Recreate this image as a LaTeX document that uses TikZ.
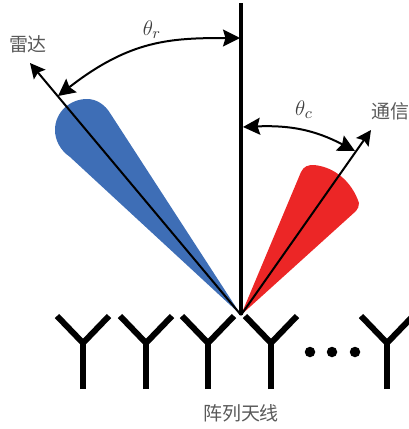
\documentclass[tikz,border=0pt]{standalone}
\usepackage{fontspec}
\newfontfamily\cjk{Noto Sans CJK SC}
\usetikzlibrary{arrows.meta, positioning, calc}

\definecolor{radarblue}{RGB}{62,110,182}
\definecolor{commred}{RGB}{236,38,38}

\begin{document}
\begin{tikzpicture}[
        x=0.2mm, y=-0.2mm,
        lab/.style={font=\cjk\fontsize{10.8}{13}\selectfont, text=black!65, inner sep=0pt},
        ang/.style={font=\fontsize{13}{15}\selectfont, text=black!75, inner sep=0pt},
        beam/.style={-{Stealth[length=3mm,width=3mm,inset=0.5mm]}, line width=0.4mm},
        sweep/.style={{Stealth[length=3.4mm,width=3.4mm,inset=0.5mm]}-{Stealth[length=3.4mm,width=3.4mm,inset=0.5mm]}, line width=0.4mm},
        antenna/.style={line width=1.2mm, line cap=butt, line join=miter},
        dot/.style={circle, fill=black, inner sep=0pt, minimum size=2.1mm}
    ]
        \useasboundingbox (0,0) rectangle (409,429);
        \coordinate (apex) at (241,315);
        \coordinate (top) at (241,3);
        \coordinate (rtip) at (30,63);
        \coordinate (ctip) at (371,130);

        % Lobes
        \fill[radarblue] (apex) -- (70,157) .. controls (60,150) and (55,140) .. (55,130)
            .. controls (55,112) and (70,99) .. (87,99)
            .. controls (97,99) and (105,105) .. (110,113) -- cycle;
        \fill[commred] (apex) -- (301,172) .. controls (304,166) and (308,165) .. (314,165)
            .. controls (335,167) and (352,182) .. (359,203)
            .. controls (359,206) and (358,209) .. (356,211) -- cycle;

        % Boresight and beams
        \draw[line width=0.8mm] (apex) -- (top);
        \draw[beam] (apex) -- (rtip);
        \draw[beam] (apex) -- (ctip);

        % Angles
        \coordinate (ra) at (240,38);
        \coordinate (rb) at (58,96);
        \coordinate (ca) at (243,127);
        \coordinate (cb) at (355,151);
        \draw[sweep] (ra) .. controls (170,38) and (130,40) .. (rb);
        \draw[sweep] (ca) .. controls (290,125) and (315,130) .. (cb);
        \node[ang] (thr) at (152,30) {$\theta_r$};
        \node[ang] (thc) at (304,110) {$\theta_c$};

        % Antennas
        \foreach \x in {83,146,208,271,387} {
            \draw[antenna] (\x,389) -- (\x,343);
            \draw[antenna] (\x-26,316) -- (\x,343) -- (\x+26,316);
        }
        \foreach \x/\i in {310/1,332/2,355/3} { \node[dot] (d\i) at (\x,352) {}; }

        % Labels
        \node[lab] (radar) at (28,44) {雷达};
        \node[lab] (comm) at (390,111) {通信};
        \node[lab] (array) at (241,413) {阵列天线};
\end{tikzpicture}
\end{document}
